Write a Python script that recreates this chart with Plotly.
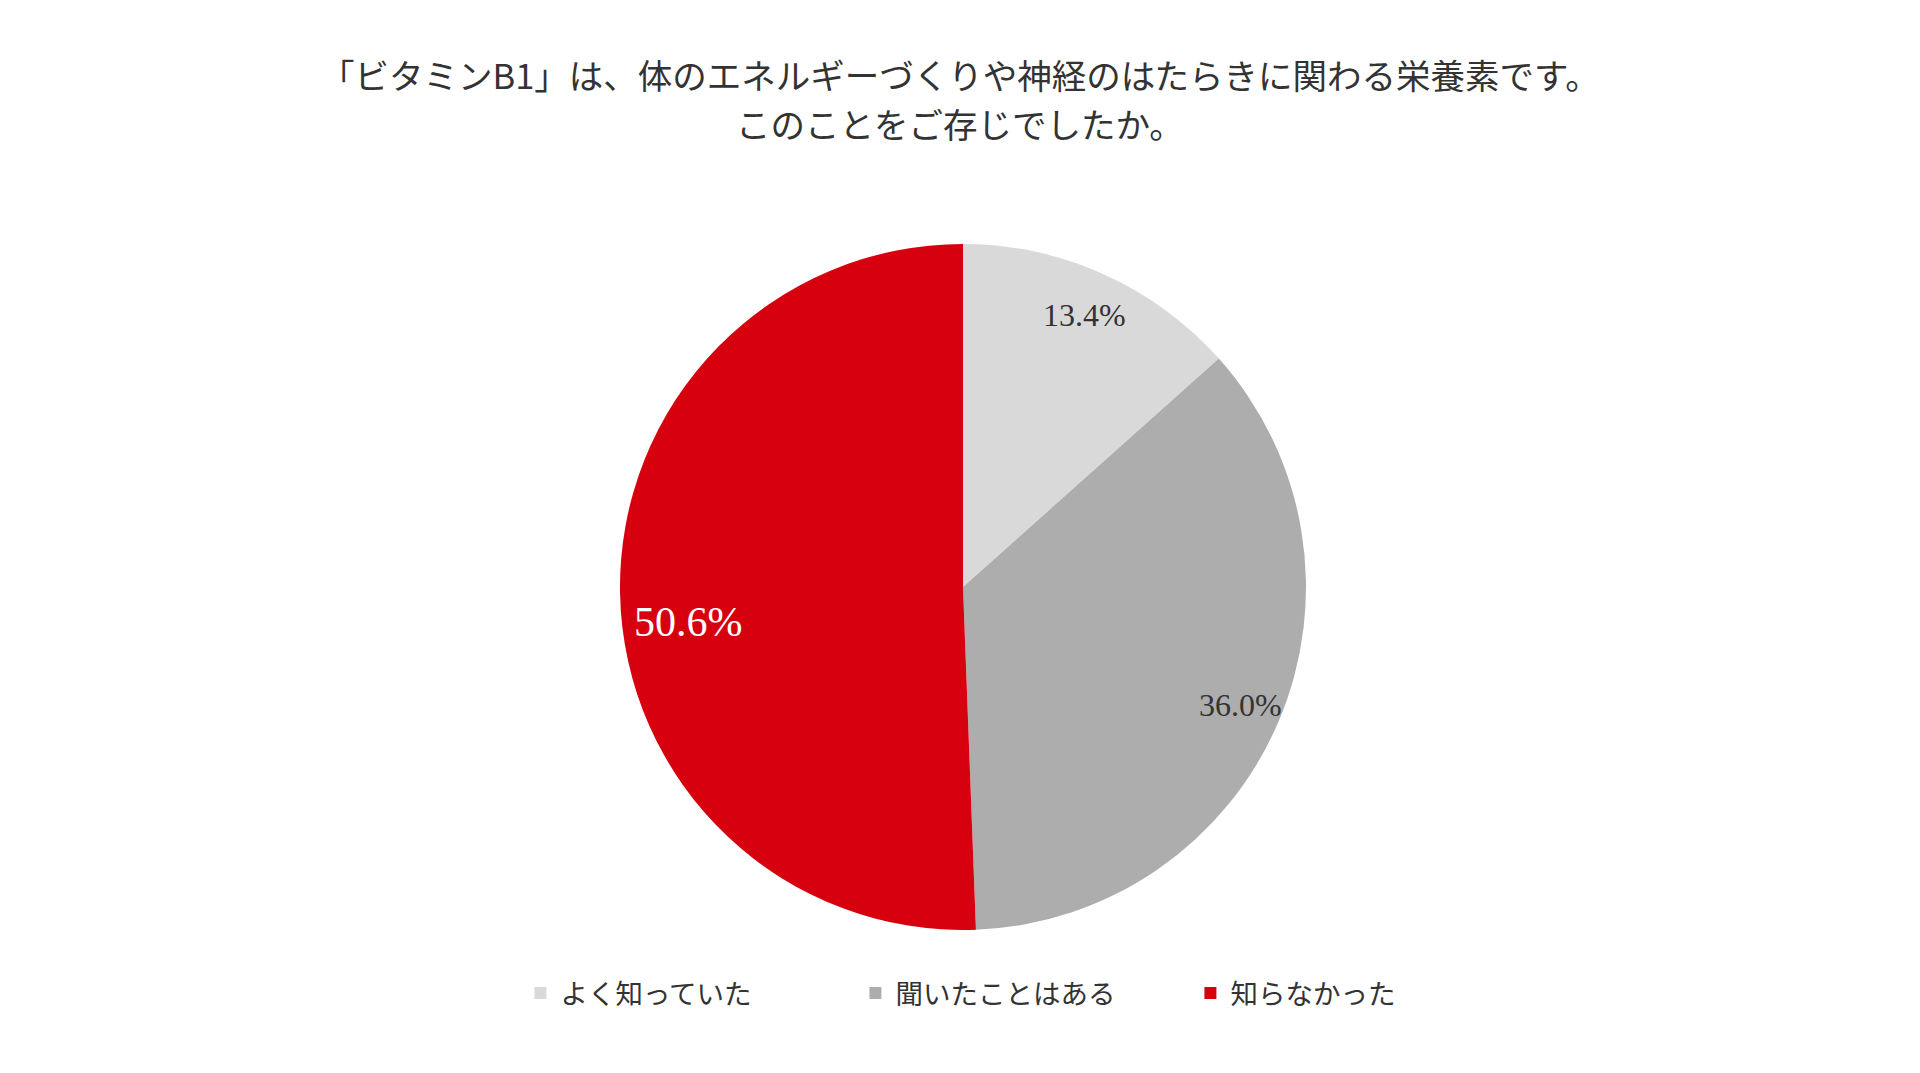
import math
import plotly.graph_objects as go

W, H = 1920, 1073

labels = ["よく知っていた", "聞いたことはある", "知らなかった"]
values = [13.4, 36.0, 50.6]
colors = ["#d9d9d9", "#adadad", "#d6000f"]
text_colors = ["#333333", "#333333", "#ffffff"]
label_sizes = [32, 32, 42]
label_radius = [0.87, 0.88, 0.80]
label_yshift = [0, 0, -30]

title_lines = [
    "「ビタミンB1」は、体のエネルギーづくりや神経のはたらきに関わる栄養素です。",
    "このことをご存じでしたか。",
]
title_line_y = [74, 123]

# the page body adds a small margin, so place things a little up/left
OFF = 8
pie_cx, pie_cy, pie_r = 963 - OFF, 587 - OFF, 343

dom_x = [(pie_cx - pie_r) / W, (pie_cx + pie_r) / W]
dom_y = [(H - pie_cy - pie_r) / H, (H - pie_cy + pie_r) / H]

fig = go.Figure(go.Pie(
    labels=labels,
    values=values,
    marker=dict(colors=colors, line=dict(width=0)),
    sort=False,
    direction="clockwise",
    rotation=0,
    textinfo="none",
    hoverinfo="label+percent",
    domain=dict(x=dom_x, y=dom_y),
))

# percent labels near the outer edge, like the original
cx = sum(dom_x) / 2
cy = sum(dom_y) / 2
total = sum(values)
cum = 0
for v, tc, fs, k, ys in zip(values, text_colors, label_sizes, label_radius, label_yshift):
    mid = (cum + v / 2) / total * 2 * math.pi
    cum += v
    fig.add_annotation(
        x=cx + k * pie_r * math.sin(mid) / W,
        y=cy + k * pie_r * math.cos(mid) / H,
        xref="paper", yref="paper",
        xanchor="center", yanchor="middle",
        yshift=ys,
        text=f"{v / total * 100:.1f}%",
        showarrow=False,
        font=dict(family="Liberation Serif, DejaVu Serif", size=fs, color=tc),
    )

# two-line title
for line, ly in zip(title_lines, title_line_y):
    fig.add_annotation(
        x=0.5 - OFF / W, y=1 - (ly - OFF) / H,
        xref="paper", yref="paper",
        xanchor="center", yanchor="middle",
        text=line,
        showarrow=False,
        font=dict(family="Noto Sans CJK JP", size=34.5, color="#333333"),
    )

fig.update_layout(
    width=W, height=H,
    margin=dict(l=0, r=0, t=0, b=0),
    paper_bgcolor="white",
    legend=dict(
        orientation="h",
        x=0.5286, xanchor="center",
        y=1 - 985 / H, yanchor="middle",
        font=dict(family="Noto Sans CJK JP", size=27.5, color="#333333"),
        itemwidth=30,
        entrywidth=290,
        traceorder="normal",
    ),
)

fig.write_html("out.html")
